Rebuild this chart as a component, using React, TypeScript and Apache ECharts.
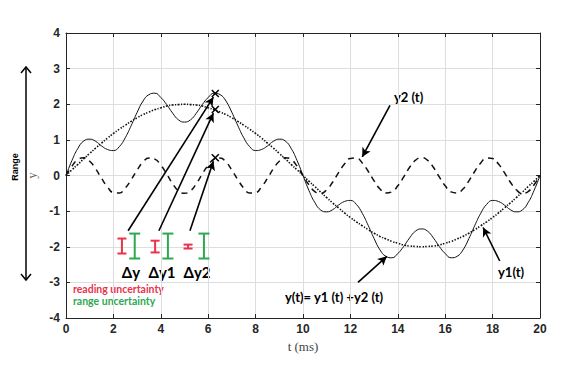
import React, { useEffect, useRef } from "react";
import * as echarts from "echarts";

const T = [0,0.25,0.5,0.75,1,1.25,1.5,1.75,2,2.25,2.5,2.75,3,3.25,3.5,3.75,4,4.25,4.5,4.75,5,5.25,5.5,5.75,6,6.25,6.5,6.75,7,7.25,7.5,7.75,8,8.25,8.5,8.75,9,9.25,9.5,9.75,10,10.25,10.5,10.75,11,11.25,11.5,11.75,12,12.25,12.5,12.75,13,13.25,13.5,13.75,14,14.25,14.5,14.75,15,15.25,15.5,15.75,16,16.25,16.5,16.75,17,17.25,17.5,17.75,18,18.25,18.5,18.75,19,19.25,19.5,19.75,20];

const Y1 = [0,0.16,0.31,0.47,0.62,0.77,0.91,1.05,1.18,1.30,1.41,1.52,1.62,1.71,1.78,1.85,1.90,1.95,1.98,1.99,2.00,1.99,1.98,1.95,1.90,1.85,1.78,1.71,1.62,1.52,1.41,1.30,1.18,1.05,0.91,0.77,0.62,0.47,0.31,0.16,0,
-0.16,-0.31,-0.47,-0.62,-0.77,-0.91,-1.05,-1.18,-1.30,-1.41,-1.52,-1.62,-1.71,-1.78,-1.85,-1.90,-1.95,-1.98,-1.99,-2.00,-1.99,-1.98,-1.95,-1.90,-1.85,-1.78,-1.71,-1.62,-1.52,-1.41,-1.30,-1.18,-1.05,-0.91,-0.77,-0.62,-0.47,-0.31,-0.16,0];

const Y2 = [0,0.26,0.45,0.50,0.40,0.19,-0.08,-0.32,-0.48,-0.49,-0.35,-0.12,0.15,0.38,0.49,0.46,0.29,0.04,-0.23,-0.43,-0.50,-0.43,-0.23,0.04,0.29,0.46,0.49,0.38,0.15,-0.12,-0.35,-0.49,-0.48,-0.32,-0.08,0.19,0.40,0.50,0.45,0.26,0,
-0.26,-0.45,-0.50,-0.40,-0.19,0.08,0.32,0.48,0.49,0.35,0.12,-0.15,-0.38,-0.49,-0.46,-0.29,-0.04,0.23,0.43,0.50,0.43,0.23,-0.04,-0.29,-0.46,-0.49,-0.38,-0.15,0.12,0.35,0.49,0.48,0.32,0.08,-0.19,-0.40,-0.50,-0.45,-0.26,0];

const Y = [0,0.42,0.76,0.97,1.02,0.96,0.83,0.73,0.70,0.81,1.06,1.40,1.77,2.09,2.27,2.31,2.19,1.99,1.75,1.56,1.50,1.56,1.75,1.99,2.19,2.31,2.27,2.09,1.77,1.40,1.06,0.81,0.70,0.73,0.83,0.96,1.02,0.97,0.76,0.42,0,
-0.42,-0.76,-0.97,-1.02,-0.96,-0.83,-0.73,-0.70,-0.81,-1.06,-1.40,-1.77,-2.09,-2.27,-2.31,-2.19,-1.99,-1.75,-1.56,-1.50,-1.56,-1.75,-1.99,-2.19,-2.31,-2.27,-2.09,-1.77,-1.40,-1.06,-0.81,-0.70,-0.73,-0.83,-0.96,-1.02,-0.97,-0.76,-0.42,0];

// markers "x" at t = 6.3
const MARK_T = [6.3, 6.3, 6.3];
const MARK_Y = [2.3, 1.85, 0.5];

// arrows: [fromT, fromY, toT, toY]
const ARROWS = [
  [2.62, -1.55, 6.22, 2.2],
  [3.92, -1.55, 6.22, 1.75],
  [5.23, -1.55, 6.22, 0.4],
  [13.67, 1.97, 12.5, 0.52],
  [12.32, -3.0, 13.54, -2.27],
  [18.3, -2.4, 17.6, -1.46],
];

// uncertainty bars: [t, high, low]
const READING = [
  [2.36, -1.77, -2.19],
  [3.76, -1.83, -2.16],
  [5.15, -1.94, -2.05],
];
const RANGE = [
  [2.9, -1.63, -2.33],
  [4.3, -1.63, -2.33],
  [5.82, -1.63, -2.33],
];

const X_TICKS = [0, 2, 4, 6, 8, 10, 12, 14, 16, 18, 20];
const Y_TICKS = [-4, -3, -2, -1, 0, 1, 2, 3, 4];

const RED = "#e8334a";
const GREEN = "#2ea84f";
const LBL = "Lato, 'Open Sans', sans-serif";

function barSeries(data: number[][], color: string, half: number) {
  return {
    type: "custom",
    silent: true,
    data,
    z: 5,
    renderItem: (_p: any, api: any) => {
      const x = api.value(0);
      const a = api.coord([x, api.value(1)]);
      const b = api.coord([x, api.value(2)]);
      const st = { stroke: color, lineWidth: 2 };
      return {
        type: "group",
        children: [
          { type: "line", shape: { x1: a[0], y1: a[1], x2: b[0], y2: b[1] }, style: st },
          { type: "line", shape: { x1: a[0] - half, y1: a[1], x2: a[0] + half, y2: a[1] }, style: st },
          { type: "line", shape: { x1: b[0] - half, y1: b[1], x2: b[0] + half, y2: b[1] }, style: st },
        ],
      };
    },
  };
}

export default function App() {
  const ref = useRef<HTMLDivElement>(null);
  useEffect(() => {
    if (!ref.current) return;
    const chart = echarts.init(ref.current, null, { renderer: "svg" });
    const pair = (ys: number[]) => T.map((t, i) => [t, ys[i]]);
    const axisLine = { show: true, onZero: false, lineStyle: { color: "#262626", width: 1 } };
    const tick = { inside: true, length: 4, lineStyle: { color: "#262626" } };
    const tickFont = { fontFamily: "'Liberation Sans', Arial, sans-serif", fontWeight: "bold", fontSize: 12, color: "#262626" };
    const option: any = {
      animation: false,
      backgroundColor: "#fff",
      grid: { left: 66, right: 27, top: 33, bottom: 56 },
      xAxis: [
        {
          type: "value", min: 0, max: 20, interval: 2,
          name: "t (ms)", nameLocation: "middle", nameGap: 20,
          nameTextStyle: { fontFamily: "'Liberation Serif', serif", fontSize: 13, color: "#444" },
          axisLine, axisTick: tick,
          axisLabel: { margin: 5, ...tickFont, formatter: (v: number) => (X_TICKS.includes(v) ? String(v) : "") },
          splitLine: { show: true, lineStyle: { color: "#dedede", width: 1 } },
        },
        {
          type: "value", min: 0, max: 20, interval: 2, position: "top",
          axisLine, axisTick: tick, axisLabel: { show: false }, splitLine: { show: false },
        },
      ],
      yAxis: [
        {
          type: "value", min: -4, max: 4, interval: 1,
          name: "y", nameLocation: "middle", nameGap: 21, nameRotate: 90,
          nameTextStyle: { fontFamily: "'Liberation Serif', serif", fontSize: 13, color: "#666" },
          axisLine, axisTick: tick,
          axisLabel: { margin: 6, ...tickFont, formatter: (v: number) => (Y_TICKS.includes(v) ? String(v) : "") },
          splitLine: { show: true, lineStyle: { color: "#dedede", width: 1 } },
        },
        {
          type: "value", min: -4, max: 4, interval: 1, position: "right",
          axisLine, axisTick: tick, axisLabel: { show: false }, splitLine: { show: false },
        },
      ],
      series: [
        {
          name: "y1(t)", type: "line", data: pair(Y1), showSymbol: false, smooth: true, silent: true,
          lineStyle: { color: "#111", width: 1.6, type: [1.5, 1.5] },
        },
        {
          name: "y2(t)", type: "line", data: pair(Y2), showSymbol: false, smooth: true, silent: true,
          lineStyle: { color: "#111", width: 1.5, type: [6, 5] },
        },
        {
          name: "y(t)", type: "line", data: pair(Y), showSymbol: false, smooth: true, silent: true,
          lineStyle: { color: "#111", width: 1 },
          markLine: {
            silent: true,
            symbol: ["none", "arrow"],
            symbolSize: [7, 9],
            label: { show: false },
            lineStyle: { color: "#000", width: 1.6, type: "solid" },
            data: ARROWS.map((a) => [{ coord: [a[0], a[1]] }, { coord: [a[2], a[3]] }]),
          },
        },
        {
          type: "custom", silent: true, z: 6,
          data: MARK_T.map((t, i) => [t, MARK_Y[i]]),
          renderItem: (_p: any, api: any) => {
            const c = api.coord([api.value(0), api.value(1)]);
            const s = 3.5;
            const st = { stroke: "#000", lineWidth: 1.5 };
            return {
              type: "group",
              children: [
                { type: "line", shape: { x1: c[0] - s, y1: c[1] - s, x2: c[0] + s, y2: c[1] + s }, style: st },
                { type: "line", shape: { x1: c[0] - s, y1: c[1] + s, x2: c[0] + s, y2: c[1] - s }, style: st },
              ],
            };
          },
        },
        barSeries(READING, RED, 4.5),
        barSeries(RANGE, GREEN, 5.5),
      ],
      graphic: [
        { type: "text", x: 131, y: 272, style: { text: "Δy", font: `bold 15px ${LBL}`, fill: "#000", align: "center", verticalAlign: "middle" } },
        { type: "text", x: 162, y: 272, style: { text: "Δy1", font: `bold 15px ${LBL}`, fill: "#000", align: "center", verticalAlign: "middle" } },
        { type: "text", x: 197, y: 272, style: { text: "Δy2", font: `bold 15px ${LBL}`, fill: "#000", align: "center", verticalAlign: "middle" } },
        { type: "text", x: 73, y: 289, style: { text: "reading uncertainty", font: `bold 10.5px ${LBL}`, fill: RED, verticalAlign: "middle" } },
        { type: "text", x: 73, y: 301, style: { text: "range uncertainty", font: `bold 10.5px ${LBL}`, fill: GREEN, verticalAlign: "middle" } },
        { type: "text", x: 394, y: 97, style: { text: "y2 (t)", font: `bold 13px ${LBL}`, fill: "#000", verticalAlign: "middle" } },
        { type: "text", x: 285, y: 297, style: { text: "y(t)= y1 (t) +y2 (t)", font: `bold 13px ${LBL}`, fill: "#000", verticalAlign: "middle" } },
        { type: "text", x: 498, y: 272, style: { text: "y1(t)", font: `bold 13px ${LBL}`, fill: "#000", verticalAlign: "middle" } },
        { type: "text", x: 15, y: 167, rotation: Math.PI / 2, style: { text: "Range", font: "bold 9px 'Liberation Sans', Arial, sans-serif", fill: "#000", align: "center", verticalAlign: "middle" } },
        { type: "line", shape: { x1: 26, y1: 67, x2: 26, y2: 280 }, style: { stroke: "#000", lineWidth: 1.5 } },
        { type: "polyline", shape: { points: [[21, 73], [26, 67], [31, 73]] }, style: { stroke: "#000", lineWidth: 1.5, fill: "none" } },
        { type: "polyline", shape: { points: [[21, 274], [26, 280], [31, 274]] }, style: { stroke: "#000", lineWidth: 1.5, fill: "none" } },
      ],
    };
    chart.setOption(option);
    return () => chart.dispose();
  }, []);
  return <div ref={ref} style={{ position: "fixed", left: 0, top: 0, width: 567, height: 374 }} />;
}
